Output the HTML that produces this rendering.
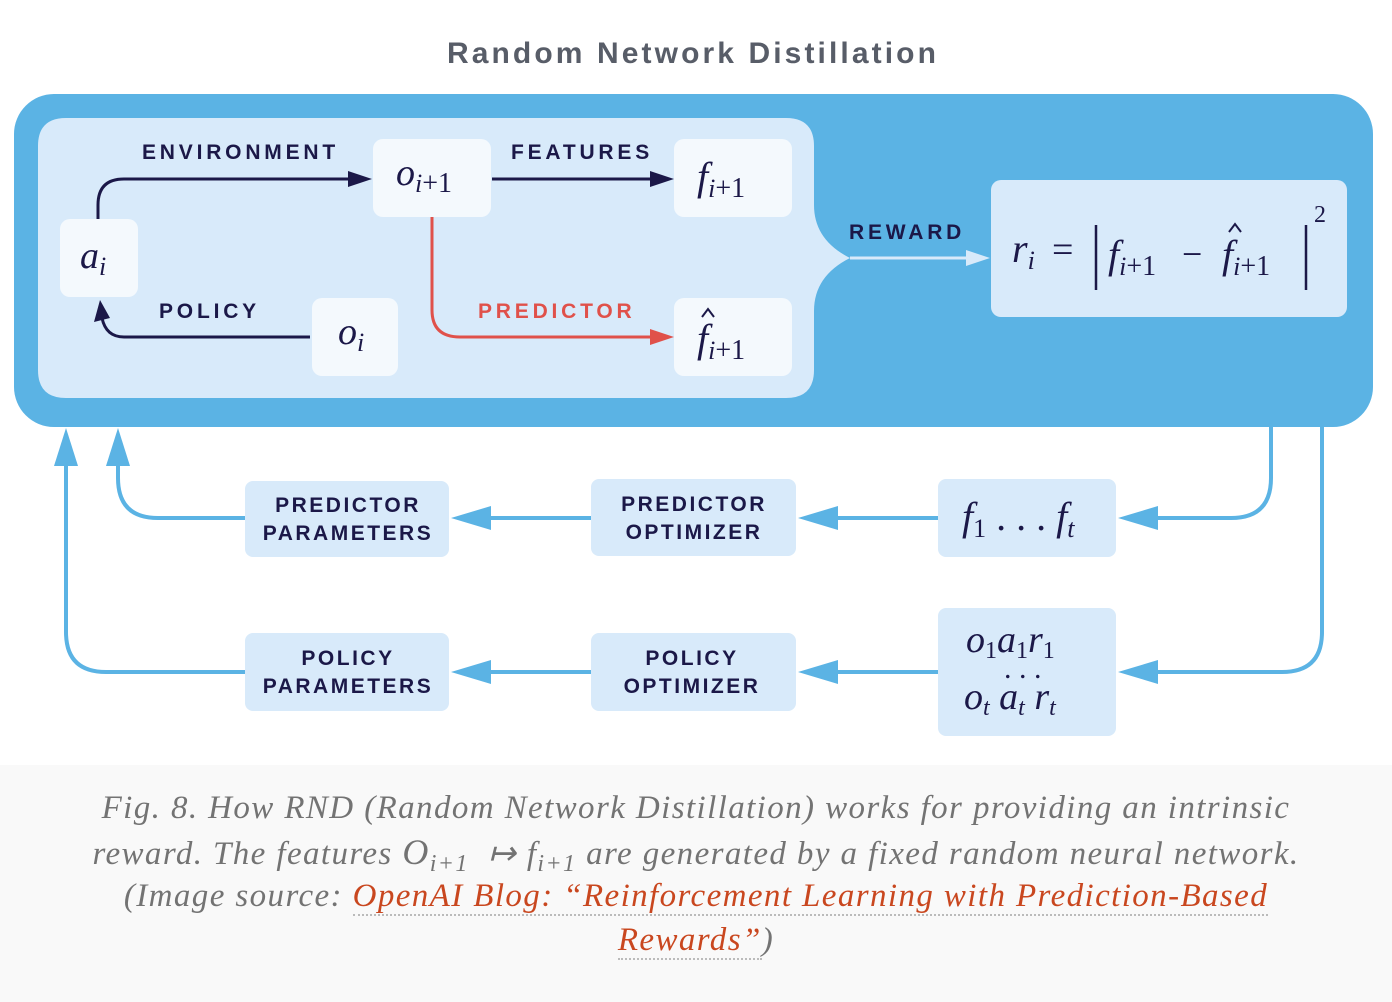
<!DOCTYPE html>
<html><head><meta charset="utf-8"><style>
body{margin:0;width:1392px;height:1002px;background:#fff;overflow:hidden;position:relative}
svg{position:absolute;left:0;top:0}
.cap{position:absolute;left:0;width:1392px;top:765px;height:237px;background:#f9f9f9}
.l{position:absolute;left:0;width:1392px;height:44px;line-height:40px;text-align:center;font-family:"Liberation Serif",serif;font-style:italic;font-size:33px;letter-spacing:1.4px;color:#737373;white-space:nowrap}
.l sub{line-height:0;font-size:24px;vertical-align:-7px}
.a{color:#c9471f;border-bottom:2px dotted #bbb}
</style></head><body>
<div class="cap"></div>
<svg width="1392" height="1002" viewBox="0 0 1392 1002">
<text x="693" y="63" text-anchor="middle" font-family="Liberation Sans,sans-serif" font-weight="bold" font-size="30" letter-spacing="3.1" fill="#585d68">Random Network Distillation</text>
<rect x="14" y="94" width="1359" height="333" rx="40" fill="#5bb3e4"/>
<path d="M66,118 H786 Q814,118 814,146 V205 Q814,240 850,258 Q814,276 814,311 V370 Q814,398 786,398 H66 Q38,398 38,370 V146 Q38,118 66,118 Z" fill="#d8eafa"/>
<line x1="850" y1="258" x2="968" y2="258" stroke="#d8eafa" stroke-width="3"/>
<path d="M966,250 L990,258 L966,266 z" fill="#d8eafa"/>
<rect x="991" y="180" width="356" height="137" rx="10" fill="#d8eafa"/>
<g fill="#f4f9fd">
<rect x="60" y="219" width="78" height="78" rx="10"/>
<rect x="373" y="139" width="118" height="78" rx="10"/>
<rect x="674" y="139" width="118" height="78" rx="10"/>
<rect x="312" y="298" width="86" height="78" rx="10"/>
<rect x="674" y="298" width="118" height="78" rx="10"/>
</g>
<g fill="#d8eafa">
<rect x="245" y="481" width="204" height="76" rx="8"/>
<rect x="591" y="479" width="205" height="77" rx="8"/>
<rect x="938" y="479" width="178" height="78" rx="8"/>
<rect x="245" y="633" width="204" height="78" rx="8"/>
<rect x="591" y="633" width="205" height="78" rx="8"/>
<rect x="938" y="608" width="178" height="128" rx="8"/>
</g>
<g fill="none" stroke="#1b1848" stroke-width="3">
<path d="M98,219 V205 Q98,179 124,179 H350"/>
<path d="M492,179 H652"/>
<path d="M310,337 H124 Q106,337 102,318"/>
</g>
<g fill="#1b1848">
<path d="M348,171 L372,179 L348,187 z"/>
<path d="M650,171 L674,179 L650,187 z"/>
<path d="M94,322 L100,300 L110,318 z"/>
</g>
<path d="M432,217 V310 Q432,337 460,337 H652" fill="none" stroke="#e0514a" stroke-width="3"/>
<path d="M650,329 L674,337 L650,345 z" fill="#e0514a"/>
<g font-family="Liberation Sans,sans-serif" font-weight="bold" font-size="21" letter-spacing="3.8" fill="#1b1848">
<text x="142" y="159">ENVIRONMENT</text>
<text x="511" y="159">FEATURES</text>
<text x="159" y="318">POLICY</text>
<text x="478" y="318" fill="#e0514a">PREDICTOR</text>
<text x="849" y="239">REWARD</text>
</g>
<g font-family="Liberation Serif,serif" font-style="italic" fill="#1b1848">
<text x="80" y="268" font-size="38">a<tspan font-size="26" dy="7">i</tspan></text>
<text x="396" y="185" font-size="38">o<tspan font-size="26" dy="7">i</tspan><tspan font-size="28" font-style="normal">+1</tspan></text>
<text x="697" y="190" font-size="40">f<tspan font-size="26" dy="7">i</tspan><tspan font-size="28" font-style="normal">+1</tspan></text>
<text x="338" y="344" font-size="38">o<tspan font-size="26" dy="7">i</tspan></text>
<text x="697" y="352" font-size="40">f<tspan font-size="26" dy="7">i</tspan><tspan font-size="28" font-style="normal">+1</tspan></text>
<text x="1012" y="262" font-size="40">r<tspan font-size="26" dy="7">i</tspan></text>
<text x="1052" y="262" font-size="38" font-style="normal">=</text>
<text x="1108" y="268" font-size="40">f<tspan font-size="26" dy="7">i</tspan><tspan font-size="28" font-style="normal">+1</tspan></text>
<text x="1182" y="266" font-size="36" font-style="normal">−</text>
<text x="1222" y="268" font-size="40">f<tspan font-size="26" dy="7">i</tspan><tspan font-size="28" font-style="normal">+1</tspan></text>
<text x="1314" y="222" font-size="24" font-style="normal">2</text>
<text x="962" y="530" font-size="40">f<tspan font-size="26" dy="7" font-style="normal">1</tspan><tspan dy="-7" font-style="normal"> . . . </tspan>f<tspan font-size="26" dy="7">t</tspan></text>
<text x="966" y="652" font-size="38">o<tspan font-size="24" dy="6" font-style="normal">1</tspan><tspan dy="-6">a</tspan><tspan font-size="24" dy="6" font-style="normal">1</tspan><tspan dy="-6">r</tspan><tspan font-size="24" dy="6" font-style="normal">1</tspan></text>
<text x="1004" y="678" font-size="30" font-style="normal">. . .</text>
<text x="964" y="709" font-size="38">o<tspan font-size="24" dy="6">t</tspan><tspan dy="-6"> a</tspan><tspan font-size="24" dy="6">t</tspan><tspan dy="-6"> r</tspan><tspan font-size="24" dy="6">t</tspan></text>
</g>
<g fill="none" stroke="#1b1848" stroke-width="2">
<path d="M702,317 L708,309 L714,317"/>
<path d="M1229,232 L1235,224 L1241,232"/>
</g>
<g stroke="#1b1848" stroke-width="2.5"><line x1="1096" y1="225" x2="1096" y2="290"/><line x1="1306" y1="225" x2="1306" y2="290"/></g>
<g fill="none" stroke="#5bb3e4" stroke-width="4">
<path d="M1271,427 V478 Q1271,518 1231,518 H1150"/>
<path d="M1322,427 V632 Q1322,672 1282,672 H1150"/>
<path d="M938,518 H830"/><path d="M591,518 H483"/>
<path d="M938,672 H830"/><path d="M591,672 H483"/>
<path d="M245,518 H158 Q118,518 118,478 V455"/>
<path d="M245,672 H106 Q66,672 66,632 V455"/>
</g>
<g fill="#5bb3e4">
<path d="M1118,518 L1158,506 L1158,530 z"/>
<path d="M1118,672 L1158,660 L1158,684 z"/>
<path d="M798,518 L838,506 L838,530 z"/>
<path d="M451,518 L491,506 L491,530 z"/>
<path d="M798,672 L838,660 L838,684 z"/>
<path d="M451,672 L491,660 L491,684 z"/>
<path d="M118,428 L106,466 L130,466 z"/>
<path d="M66,428 L54,466 L78,466 z"/>
</g>
<g font-family="Liberation Sans,sans-serif" font-weight="bold" font-size="21" letter-spacing="2.5" fill="#1b1848" text-anchor="middle">
<text x="348" y="512">PREDICTOR</text><text x="348" y="540">PARAMETERS</text>
<text x="694" y="511">PREDICTOR</text><text x="694" y="539">OPTIMIZER</text>
<text x="348" y="665">POLICY</text><text x="348" y="693">PARAMETERS</text>
<text x="692" y="665">POLICY</text><text x="692" y="693">OPTIMIZER</text>
</g>
</svg>
<div class="l" style="top:788px">Fig. 8. How RND (Random Network Distillation) works for providing an intrinsic</div>
<div class="l" style="top:832px">reward. The features <span style="font-size:36px">O</span><sub>i+1</sub> &nbsp;↦ f<sub>i+1</sub> are generated by a fixed random neural network.</div>
<div class="l" style="top:876px">(Image source: <span class="a">OpenAI Blog: “Reinforcement Learning with Prediction-Based</span></div>
<div class="l" style="top:920px"><span class="a">Rewards”</span>)</div>
</body></html>
